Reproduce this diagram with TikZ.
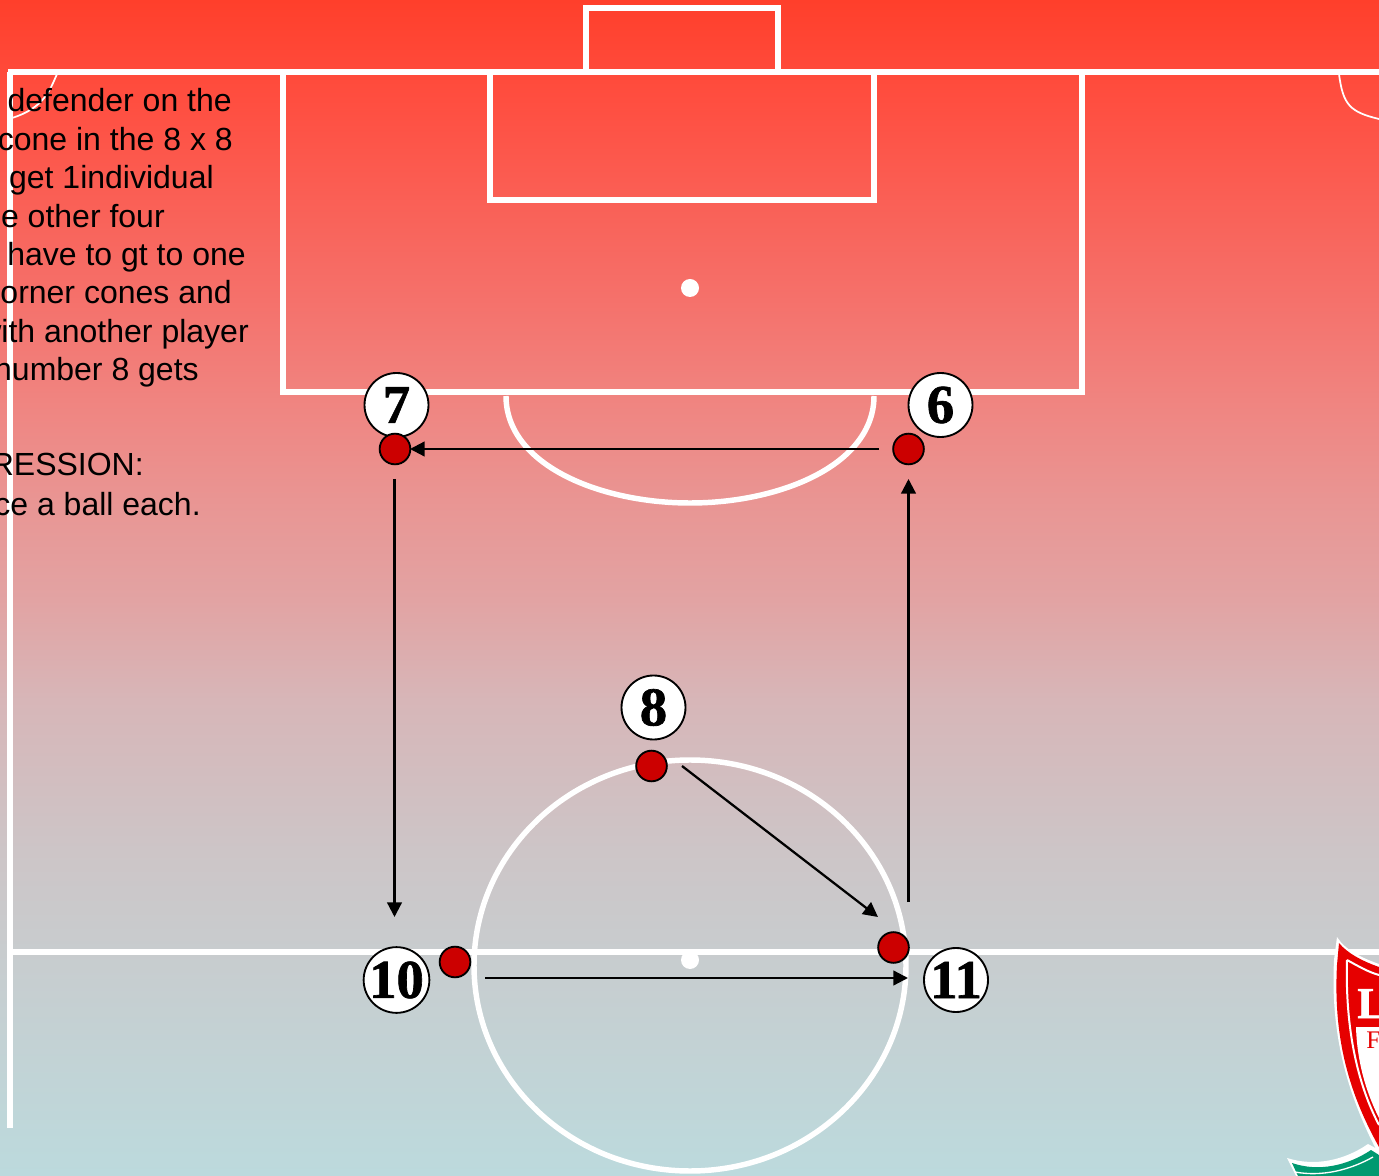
\documentclass[tikz,border=0pt]{standalone}
\usepackage{fontspec}
\setmainfont{Liberation Sans}
\newfontfamily\numfont[BoldFeatures={FakeBold=1.2}]{Liberation Serif}
\usetikzlibrary{arrows.meta}
\definecolor{ga}{HTML}{FF3F2B}
\definecolor{gb}{HTML}{FF4E40}
\definecolor{gc}{HTML}{F5716B}
\definecolor{gd}{HTML}{F08480}
\definecolor{ge}{HTML}{E99593}
\definecolor{gf}{HTML}{E2A3A3}
\definecolor{gg}{HTML}{D7B6B8}
\definecolor{gh}{HTML}{CDC5C7}
\definecolor{gi}{HTML}{C8CCCE}
\definecolor{gj}{HTML}{BCDADD}
\definecolor{dotred}{HTML}{CC0000}
\definecolor{crestred}{HTML}{E60000}
\definecolor{crestgreen}{HTML}{009970}
\pgfdeclareverticalshading{pitchbg}{100bp}{color(0bp)=(gj); color(25bp)=(gj); color(34.6bp)=(gi); color(38.86bp)=(gh); color(45.24bp)=(gg); color(49.5bp)=(gf); color(53.74bp)=(ge); color(57.99bp)=(gd); color(62.24bp)=(gc); color(70.75bp)=(gb); color(75bp)=(ga); color(100bp)=(ga)}
\tikzset{
  x=0.75pt,y=-0.75pt,
  pitchline/.style={draw=white,line width=4.1pt,line cap=butt},
  thinline/.style={draw=white,line width=1.3pt},
  spot/.style={circle,fill=white,minimum size=13.5pt,inner sep=0pt},
  numdisc/.style={circle,draw=black,fill=white,line width=1.4pt,minimum size=48pt,inner sep=0pt,font=\numfont\fontsize{41}{41}\selectfont\bfseries},
  cone/.style={circle,draw=black,fill=dotred,line width=1.4pt,minimum size=23pt,inner sep=0pt},
  run/.style={draw=black,line width=1.7pt,-{Triangle[length=11pt,width=11pt]}},
  note/.style={anchor=base east,inner sep=0pt,font=\fontsize{24}{24}\selectfont,text=black},
}
\begin{document}
\begin{tikzpicture}
\useasboundingbox (0,0) rectangle (1379,1176);
\clip (0,0) rectangle (1379,1176);
\fill[shading=pitchbg] (0,0) rectangle (1379,1176);
% pitch markings
\draw[pitchline] (586,72) -- (586,8) -- (778,8) -- (778,72);
\draw[pitchline] (8,72) -- (1379,72);
\draw[pitchline] (10,72) -- (10,1128);
\draw[pitchline] (10,952) -- (1379,952);
\draw[pitchline] (283,72) -- (283,392) -- (1082,392) -- (1082,72);
\draw[pitchline] (490,72) -- (490,200) -- (874,200) -- (874,72);
\draw[pitchline] (506,396) .. controls (506,465) and (600,503) .. (690,503) .. controls (780,503) and (874,465) .. (874,396);
\draw[pitchline] (690,965.5) ellipse [x radius=216,y radius=205.5];
\node[spot] (penspot) at (690,288) {};
\node[spot] (midspot) at (690,960) {};
\draw[thinline] (57,74) .. controls (50,90) and (44,108) .. (12,118);
\draw[thinline] (1339,74) .. controls (1343,105) and (1350,112) .. (1379,119);
% crest
\fill[white] (1287,1158) .. controls (1315,1167) and (1345,1160) .. (1368,1144) -- (1379,1150) -- (1379,1176) -- (1296,1176) -- cycle;
\fill[crestgreen] (1292,1163) .. controls (1318,1172) and (1347,1166) .. (1371,1150) -- (1379,1155) -- (1379,1176) -- (1298,1176) -- cycle;
\draw[white,line width=1pt] (1295,1172) .. controls (1322,1177) and (1350,1170) .. (1373,1157);
\fill[white] (1337,937) .. controls (1345,950) and (1362,958) .. (1379,964) -- (1379,1155) .. controls (1350,1100) and (1330,1040) .. (1334,960) -- cycle;
\fill[crestred] (1339,943) .. controls (1347,953) and (1362,961) .. (1379,967) -- (1379,1147) .. controls (1350,1095) and (1333,1040) .. (1337,965) -- cycle;
\draw[white,line width=1.5pt] (1347,960) .. controls (1358,966) and (1368,972) .. (1379,975);
\draw[white,line width=1.5pt] (1347,960) .. controls (1345,1030) and (1358,1085) .. (1379,1125);
\fill[white] (1356,1027) -- (1379,1027) -- (1379,1118) .. controls (1365,1090) and (1357,1060) .. (1356,1027) -- cycle;
\node[anchor=base west,inner sep=0pt,text=white,font=\numfont\fontsize{33}{33}\selectfont\bfseries] (crestL) at (1357,1018) {L};
\node[anchor=base west,inner sep=0pt,text=crestred,font=\numfont\fontsize{19}{19}\selectfont] (crestF) at (1366,1048) {F};
% text
\node[note] (t1) at (232,112) {defender on the};
\node[note] (t2) at (233,151) {cone in the 8 x 8};
\node[note] (t3) at (214,189) {get 1individual};
\node[note] (t4) at (165,228) {e other four};
\node[note] (t5) at (246,266) {have to gt to one};
\node[note] (t6) at (232,304) {orner cones and};
\node[note] (t7) at (249,343) {with another player};
\node[note] (t8) at (199,381) {number 8 gets};
\node[note] (t9) at (144,476) {RESSION:};
\node[note] (t10) at (201,516) {ce a ball each.};
% players
\node[numdisc] (n7) at (396.5,405) {7};
\node[numdisc] (n6) at (940.5,405) {6};
\node[numdisc] (n8) at (653.5,707.5) {8};
\node[numdisc] (n10) at (396.5,980) {10};
\node[numdisc] (n11) at (956,980) {11};
\node[cone] (c7) at (395,449) {};
\node[cone] (c6) at (908.5,449) {};
\node[cone] (c8) at (651.5,766) {};
\node[cone] (c10) at (455,962) {};
\node[cone] (c11) at (893.5,947.5) {};
% runs
\coordinate (r1a) at (879,449); \coordinate (r1b) at (410,449);
\coordinate (r2a) at (394.5,479); \coordinate (r2b) at (394.5,917);
\coordinate (r3a) at (908.5,902); \coordinate (r3b) at (908.5,479);
\coordinate (r4a) at (682,766); \coordinate (r4b) at (878,917);
\coordinate (r5a) at (485,978); \coordinate (r5b) at (908,978);
\draw[run] (r1a) -- (r1b);
\draw[run] (r2a) -- (r2b);
\draw[run] (r3a) -- (r3b);
\draw[run] (r4a) -- (r4b);
\draw[run] (r5a) -- (r5b);
\end{tikzpicture}
\end{document}
